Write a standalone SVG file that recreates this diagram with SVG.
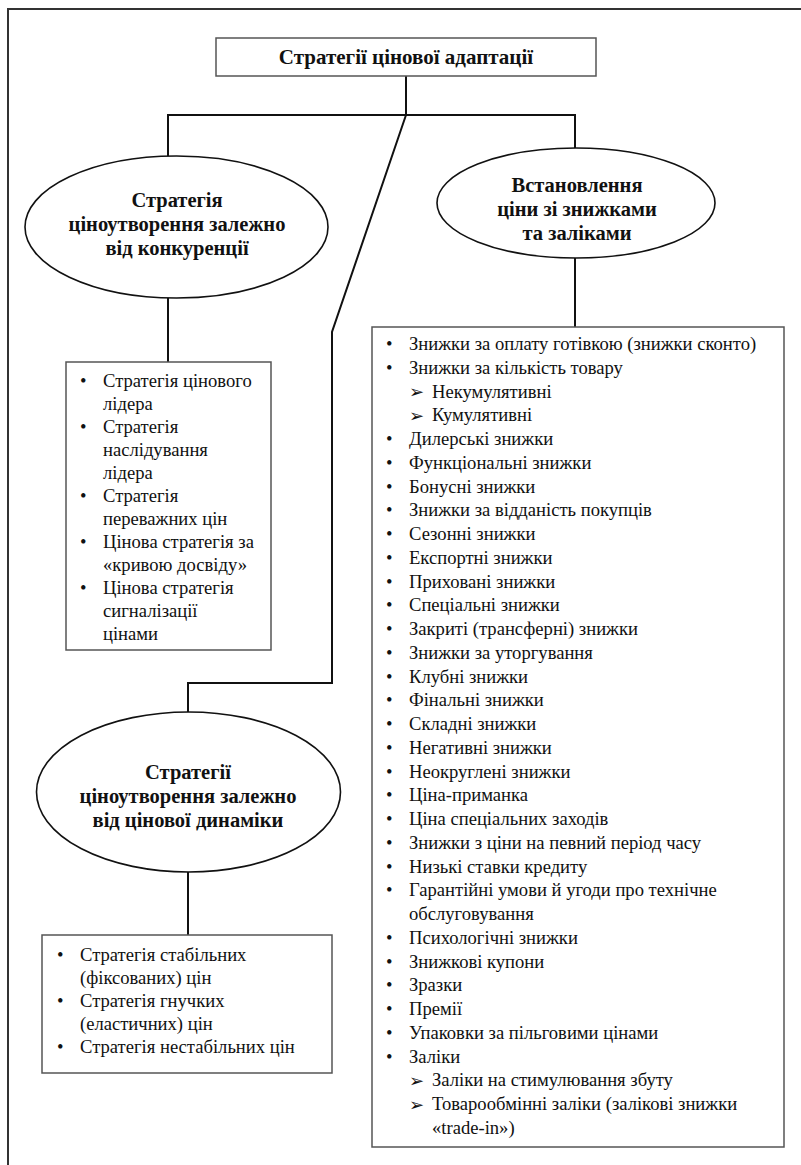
<svg xmlns="http://www.w3.org/2000/svg" width="801" height="1165" viewBox="0 0 801 1165">
<style>
.t{font-family:"Liberation Serif","Times New Roman",serif;font-size:18.6px;fill:#111}
.b{font-family:"Liberation Serif","Times New Roman",serif;font-size:20.5px;font-weight:bold;fill:#111;text-anchor:middle}
.ti{font-family:"Liberation Serif","Times New Roman",serif;font-size:21px;font-weight:bold;fill:#111;text-anchor:middle}
.ar{font-family:"DejaVu Sans",sans-serif;font-size:18px;font-weight:bold;fill:#111}
.box{fill:#fff;stroke:#555;stroke-width:1.5}
.ell{fill:#fff;stroke:#111;stroke-width:1.6}
.c{fill:none;stroke:#111;stroke-width:2}
</style>
<rect x="0" y="0" width="801" height="1165" fill="#fff"/>
<path d="M8,1165 V9 H801" fill="none" stroke="#333" stroke-width="2"/>
<g id="connectors">
<path class="c" d="M406,76 V115"/>
<path class="c" d="M168,156 V115 H575 V148"/>
<path class="c" d="M406,115 L332,332 V683 H188 V712"/>
<path class="c" d="M168,298 V362"/>
<path class="c" d="M575,258 V327"/>
<path class="c" d="M188,872 V935"/>
</g>
<g id="root">
<rect class="box" x="216" y="38" width="380" height="38"/>
<text class="ti" x="406" y="64">Стратегії цінової адаптації</text>
</g>
<g id="competition">
<ellipse class="ell" cx="176.5" cy="227" rx="151.5" ry="71"/>
<text class="b"><tspan x="177" y="207">Стратегія</tspan><tspan x="177" y="231">ціноутворення залежно</tspan><tspan x="177" y="255">від конкуренції</tspan></text>
</g>
<g id="discounts">
<ellipse class="ell" cx="576" cy="203" rx="139" ry="55"/>
<text class="b"><tspan x="577" y="192">Встановлення</tspan><tspan x="577" y="216">ціни зі знижками</tspan><tspan x="577" y="240">та заліками</tspan></text>
</g>
<g id="dynamics">
<ellipse class="ell" cx="188.5" cy="792" rx="152" ry="80"/>
<text class="b"><tspan x="188" y="779">Стратегії</tspan><tspan x="188" y="803">ціноутворення залежно</tspan><tspan x="188" y="827">від цінової динаміки</tspan></text>
</g>
<g id="competition-list">
<rect class="box" x="66" y="362" width="205" height="288"/>
<text class="t">
<tspan x="80" y="387">•</tspan><tspan x="103" y="387">Стратегія цінового</tspan>
<tspan x="103" y="410">лідера</tspan>
<tspan x="80" y="433">•</tspan><tspan x="103" y="433">Стратегія</tspan>
<tspan x="103" y="456">наслідування</tspan>
<tspan x="103" y="479">лідера</tspan>
<tspan x="80" y="502">•</tspan><tspan x="103" y="502">Стратегія</tspan>
<tspan x="103" y="525">переважних цін</tspan>
<tspan x="80" y="548">•</tspan><tspan x="103" y="548">Цінова стратегія за</tspan>
<tspan x="103" y="571">«кривою досвіду»</tspan>
<tspan x="80" y="594">•</tspan><tspan x="103" y="594">Цінова стратегія</tspan>
<tspan x="103" y="617">сигналізації</tspan>
<tspan x="103" y="640">цінами</tspan>
</text>
</g>
<g id="dynamics-list">
<rect class="box" x="42" y="935" width="290" height="138"/>
<text class="t">
<tspan x="57" y="961">•</tspan><tspan x="80" y="961">Стратегія стабільних</tspan>
<tspan x="80" y="984">(фіксованих) цін</tspan>
<tspan x="57" y="1007">•</tspan><tspan x="80" y="1007">Стратегія гнучких</tspan>
<tspan x="80" y="1030">(еластичних) цін</tspan>
<tspan x="57" y="1053">•</tspan><tspan x="80" y="1053">Стратегія нестабільних цін</tspan>
</text>
</g>
<g id="discounts-list">
<rect class="box" x="372" y="327" width="412" height="820"/>
<text class="t">
<tspan x="386" y="350">•</tspan><tspan x="409" y="350">Знижки за оплату готівкою (знижки сконто)</tspan>
<tspan x="386" y="373.75">•</tspan><tspan x="409" y="373.75">Знижки за кількість товару</tspan>
<tspan x="432" y="397.5">Некумулятивні</tspan>
<tspan x="432" y="421.25">Кумулятивні</tspan>
<tspan x="386" y="445">•</tspan><tspan x="409" y="445">Дилерські знижки</tspan>
<tspan x="386" y="468.75">•</tspan><tspan x="409" y="468.75">Функціональні знижки</tspan>
<tspan x="386" y="492.5">•</tspan><tspan x="409" y="492.5">Бонусні знижки</tspan>
<tspan x="386" y="516.25">•</tspan><tspan x="409" y="516.25">Знижки за відданість покупців</tspan>
<tspan x="386" y="540">•</tspan><tspan x="409" y="540">Сезонні знижки</tspan>
<tspan x="386" y="563.75">•</tspan><tspan x="409" y="563.75">Експортні знижки</tspan>
<tspan x="386" y="587.5">•</tspan><tspan x="409" y="587.5">Приховані знижки</tspan>
<tspan x="386" y="611.25">•</tspan><tspan x="409" y="611.25">Спеціальні знижки</tspan>
<tspan x="386" y="635">•</tspan><tspan x="409" y="635">Закриті (трансферні) знижки</tspan>
<tspan x="386" y="658.75">•</tspan><tspan x="409" y="658.75">Знижки за уторгування</tspan>
<tspan x="386" y="682.5">•</tspan><tspan x="409" y="682.5">Клубні знижки</tspan>
<tspan x="386" y="706.25">•</tspan><tspan x="409" y="706.25">Фінальні знижки</tspan>
<tspan x="386" y="730">•</tspan><tspan x="409" y="730">Складні знижки</tspan>
<tspan x="386" y="753.75">•</tspan><tspan x="409" y="753.75">Негативні знижки</tspan>
<tspan x="386" y="777.5">•</tspan><tspan x="409" y="777.5">Неокруглені знижки</tspan>
<tspan x="386" y="801.25">•</tspan><tspan x="409" y="801.25">Ціна-приманка</tspan>
<tspan x="386" y="825">•</tspan><tspan x="409" y="825">Ціна спеціальних заходів</tspan>
<tspan x="386" y="848.75">•</tspan><tspan x="409" y="848.75">Знижки з ціни на певний період часу</tspan>
<tspan x="386" y="872.5">•</tspan><tspan x="409" y="872.5">Низькі ставки кредиту</tspan>
<tspan x="386" y="896.25">•</tspan><tspan x="409" y="896.25">Гарантійні умови й угоди про технічне</tspan>
<tspan x="409" y="920">обслуговування</tspan>
<tspan x="386" y="943.75">•</tspan><tspan x="409" y="943.75">Психологічні знижки</tspan>
<tspan x="386" y="967.5">•</tspan><tspan x="409" y="967.5">Знижкові купони</tspan>
<tspan x="386" y="991.25">•</tspan><tspan x="409" y="991.25">Зразки</tspan>
<tspan x="386" y="1015">•</tspan><tspan x="409" y="1015">Премії</tspan>
<tspan x="386" y="1038.75">•</tspan><tspan x="409" y="1038.75">Упаковки за пільговими цінами</tspan>
<tspan x="386" y="1062.5">•</tspan><tspan x="409" y="1062.5">Заліки</tspan>
<tspan x="432" y="1086.25">Заліки на стимулювання збуту</tspan>
<tspan x="432" y="1110">Товарообмінні заліки (залікові знижки</tspan>
<tspan x="432" y="1133.75">«trade-in»)</tspan>
</text>
<text class="ar"><tspan x="409" y="398">➢</tspan><tspan x="409" y="421.75">➢</tspan><tspan x="409" y="1086.75">➢</tspan><tspan x="409" y="1110.5">➢</tspan></text>
</g>
</svg>
